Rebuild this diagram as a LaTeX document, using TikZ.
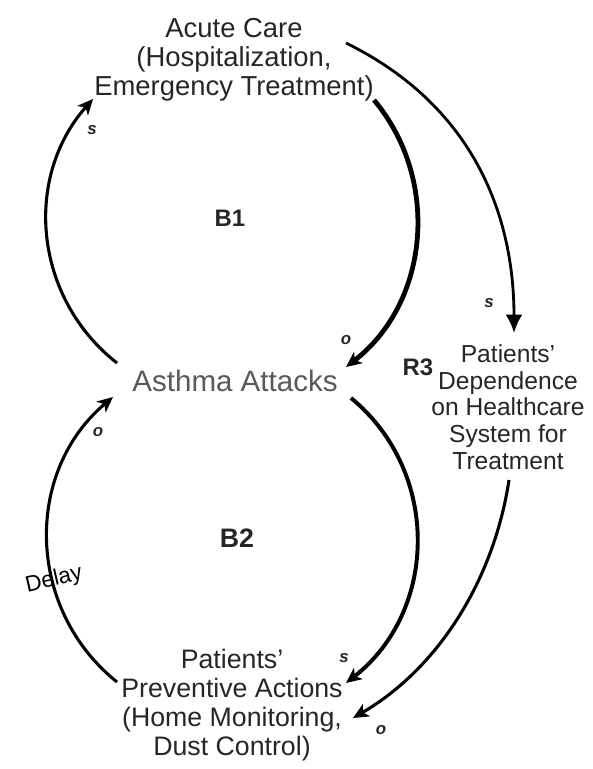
\documentclass[tikz,border=0pt]{standalone}
\usepackage{fontspec}
\setmainfont{Liberation Sans}
\usetikzlibrary{arrows.meta}

\begin{document}
\begin{tikzpicture}[x=0.025cm,y=-0.025cm,
  var/.style={align=center,inner sep=0pt,text=black!85,font=\fontsize{19.5}{20.5}\selectfont},
  link/.style={line width=2.2pt,-{Stealth[length=11pt,width=10pt,inset=3pt]}},
  pol/.style={inner sep=0pt,text=black!85,font=\fontsize{12}{12}\selectfont\bfseries\itshape},
  loopname/.style={inner sep=0pt,text=black!85,font=\fontsize{17}{17}\selectfont\bfseries}]
  \useasboundingbox (0,0) rectangle (592,769);

  % variables
  \node[var] (acute) at (234,60) {Acute Care\\(Hospitalization,\\Emergency Treatment)};
  \node[var,text=black!65,font=\fontsize{21}{21}\selectfont] (asthma) at (235,381) {Asthma Attacks};
  \node[var,font=\fontsize{17.5}{19}\selectfont] (depend) at (508,407)
    {Patients'\\Dependence\\on Healthcare\\System for\\Treatment};
  \node[var,font=\fontsize{19}{20.5}\selectfont] (prevent) at (232,705)
    {Patients'\\Preventive Actions\\(Home Monitoring,\\Dust Control)};

  % loop B1
  \draw[link] ([shift={(-118,-18)}]asthma.center) .. controls +(-83,-65) and +(-70,79) .. ([shift={(-141,39)}]acute.center);
  \draw[link,line width=3.4pt] ([shift={(140,40)}]acute.center) .. controls +(67,80) and +(83,-64) .. ([shift={(111,-14)}]asthma.center);
  % loop R3
  \draw[line width=2pt,-{Latex[length=13pt,width=12pt]}] ([shift={(112,-17)}]acute.center) .. controls +(126,62) and +(0,-120) .. ([shift={(6,-74)}]depend.center);
  \draw[link] ([shift={(1,73)}]depend.center) .. controls +(-15,99) and +(86,-50) .. ([shift={(121,13)}]prevent.center);
  % loop B2
  \draw[link,line width=2.8pt] ([shift={(116,17)}]asthma.center) .. controls +(90,74) and +(92,-72) .. ([shift={(114,-22)}]prevent.center);
  \draw[link] ([shift={(-115,-23)}]prevent.center) .. controls +(-91,-73) and +(-89,75) .. ([shift={(-122,16)}]asthma.center);

  % polarities
  \node[pol] (p1) at (92,130) {s};
  \node[pol] (p2) at (346,340) {o};
  \node[pol] (p3) at (489,303) {s};
  \node[pol] (p4) at (344,658) {s};
  \node[pol] (p5) at (381,730) {o};
  \node[pol] (p6) at (98,432) {o};

  % loop names
  \node[loopname] (b1) at (230,218) {B1};
  \node[loopname,font=\fontsize{19}{19}\selectfont\bfseries] (b2) at (237,538) {B2};
  \node[loopname] (r3) at (418,367) {R3};
  \node[var,text=black,font=\fontsize{16}{16}\selectfont,rotate=13] (delay) at (54,580) {Delay};
\end{tikzpicture}
\end{document}
